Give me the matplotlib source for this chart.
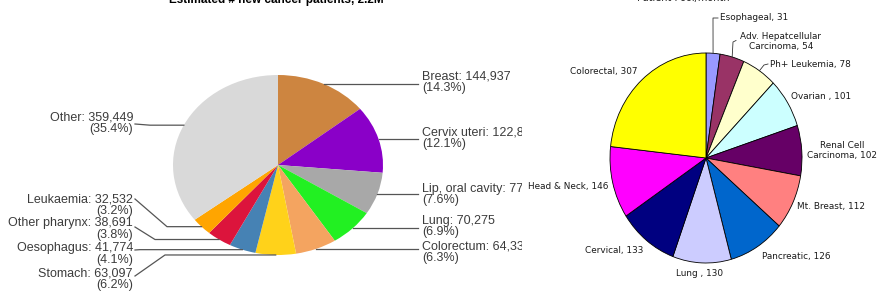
import numpy as np
import matplotlib.pyplot as plt
from matplotlib.lines import Line2D

W, H = 879, 293

# left chart: estimated new cancer patients
left_names = ["Breast", "Cervix uteri", "Lip, oral cavity", "Lung", "Colorectum",
              "Stomach", "Oesophagus", "Other pharynx", "Leukaemia", "Other"]
left_vals = [144937, 122844, 77147, 70275, 64332, 63097, 41774, 38691, 32532, 359449]
left_colors = ["#cd8540", "#8a00c8", "#a8a8a8", "#22f022", "#f4a460",
               "#ffd21a", "#4682b4", "#dc143c", "#ffa500", "#d9d9d9"]

# right chart: patient pool per month
right_names = ["Esophageal", "Adv. Hepatcellular\nCarcinoma", "Ph+ Leukemia", "Ovarian ",
               "Renal Cell\nCarcinoma", "Mt. Breast", "Pancreatic", "Lung ", "Cervical",
               "Head & Neck", "Colorectal"]
right_vals = [31, 54, 78, 101, 102, 112, 126, 130, 133, 146, 307]
right_colors = ["#9999ff", "#993366", "#ffffcc", "#ccffff", "#660066", "#ff8080",
                "#0066cc", "#ccccff", "#000080", "#ff00ff", "#ffff00"]


def px(x, y):
    return x / W, 1 - y / H


fig = plt.figure(figsize=(W / 100, H / 100), dpi=100)
tf = fig.transFigure

# ---- left pie (slightly elliptical) ----
cx1, cy1, rx1, ry1 = 278, 165, 105, 90
ax1 = fig.add_axes([0, 0, 522 / W, 1])
ax1.pie(left_vals, colors=left_colors, startangle=90, counterclock=False,
        wedgeprops=dict(linewidth=0))
ax1.set_aspect("auto")
ax1.set_xlim(-cx1 / rx1, (522 - cx1) / rx1)
ax1.set_ylim(-(H - cy1) / ry1, cy1 / ry1)

tot = sum(left_vals)
cum = np.cumsum([0] + left_vals[:-1])
mid = np.radians(90 - 360 * (cum + np.array(left_vals) / 2) / tot)
anchors = [(cx1 + rx1 * np.cos(a), cy1 - ry1 * np.sin(a)) for a in mid]

# label layout: (side, text x, block centre y, leader end y, elbow x)
layout = [("r", 422, 82, None, None), ("r", 422, 138.5, None, None),
          ("r", 422, 194.5, None, None), ("r", 422, 226.5, None, None),
          ("r", 422, 252.5, None, None),
          ("l", 133, 279.5, 276, 165), ("l", 133, 254, 250, 140),
          ("l", 133, 229, 227, 155), ("l", 133, 205, 199, 167),
          ("l", 133, 123.5, 124, 150)]
lc = "#555555"
for name, v, (ax_, ay), (side, tx, ty, ey, ex) in zip(left_names, left_vals, anchors, layout):
    lab = f"{name}: {v:,}\n({100 * v / tot:.1f}%)"
    if side == "r":
        xs, ys = [ax_, 418], [ay, ay]
        ha, x0 = "left", tx
    else:
        xs, ys = [ax_, ex, tx + 2], [ay, ay, ey]
        ha, x0 = "right", tx
    ax1.add_line(Line2D([px(x, 0)[0] for x in xs], [px(0, y)[1] for y in ys],
                        transform=tf, color=lc, lw=0.9, clip_on=False))
    ax1.text(*px(x0, ty), lab, transform=tf, ha=ha, va="center", fontsize=9,
             family="Liberation Sans", color="#3c3c3c", linespacing=0.95, clip_on=False)

ax1.text(*px(276, 0), "Estimated # new cancer patients, 2.2M", transform=tf,
         ha="center", va="center", fontsize=8.5, fontweight="bold",
         family="Liberation Sans", color="black", clip_on=False)

# ---- right pie ----
cx2, cy2, rx2, ry2 = 706, 158, 96, 105
x0r = 522
ax2 = fig.add_axes([x0r / W, 0, (W - x0r) / W, 1])
ax2.pie(right_vals, colors=right_colors, startangle=90, counterclock=False,
        wedgeprops=dict(linewidth=0.6, edgecolor="black"))
ax2.set_aspect("auto")
ax2.set_xlim((x0r - cx2) / rx2, (W - cx2) / rx2)
ax2.set_ylim(-(H - cy2) / ry2, cy2 / ry2)
ax2.set_frame_on(True)
for s in ax2.spines.values():
    s.set_visible(False)
ax2.set_facecolor("white")

tot2 = sum(right_vals)
cum2 = np.cumsum([0] + right_vals[:-1])
mid2 = np.radians(90 - 360 * (cum2 + np.array(right_vals) / 2) / tot2)
anch2 = [(cx2 + rx2 * np.cos(a), cy2 - ry2 * np.sin(a)) for a in mid2]

# (text x, text y, ha)
rlayout = [(720, 18, "left"), (781, 41.5, "center"), (770, 64, "left"),
           (791, 97, "left"), (842, 150.5, "center"), (797, 207, "left"),
           (762, 256, "left"), (700, 273, "center"), (643, 250, "right"),
           (608, 186, "right"), (637, 71, "right")]
for name, v, (tx, ty, ha) in zip(right_names, right_vals, rlayout):
    ax2.text(*px(tx, ty), f"{name}, {v}", transform=tf, ha=ha, va="center",
             fontsize=6.4, color="#1a1a1a", linespacing=1.25, clip_on=False)

# leader lines for the three small slices
leads = [[(713, 18), (718, 18)], [(733, 42), (736, 40.5)], [(764, 65), (768, 64)]]
for (ax_, ay), pts in zip(anch2[:3], leads):
    xs = [ax_] + [p[0] for p in pts]
    ys = [ay] + [p[1] for p in pts]
    ax2.add_line(Line2D([x / W for x in xs], [1 - y / H for y in ys], transform=tf,
                        color="#333333", lw=0.6, clip_on=False))

ax2.text(*px(683, -1.5), "Patient Pool/month", transform=tf, ha="center", va="center",
         fontsize=7, color="#222222", clip_on=False)

fig.savefig("out.png", dpi=100)
